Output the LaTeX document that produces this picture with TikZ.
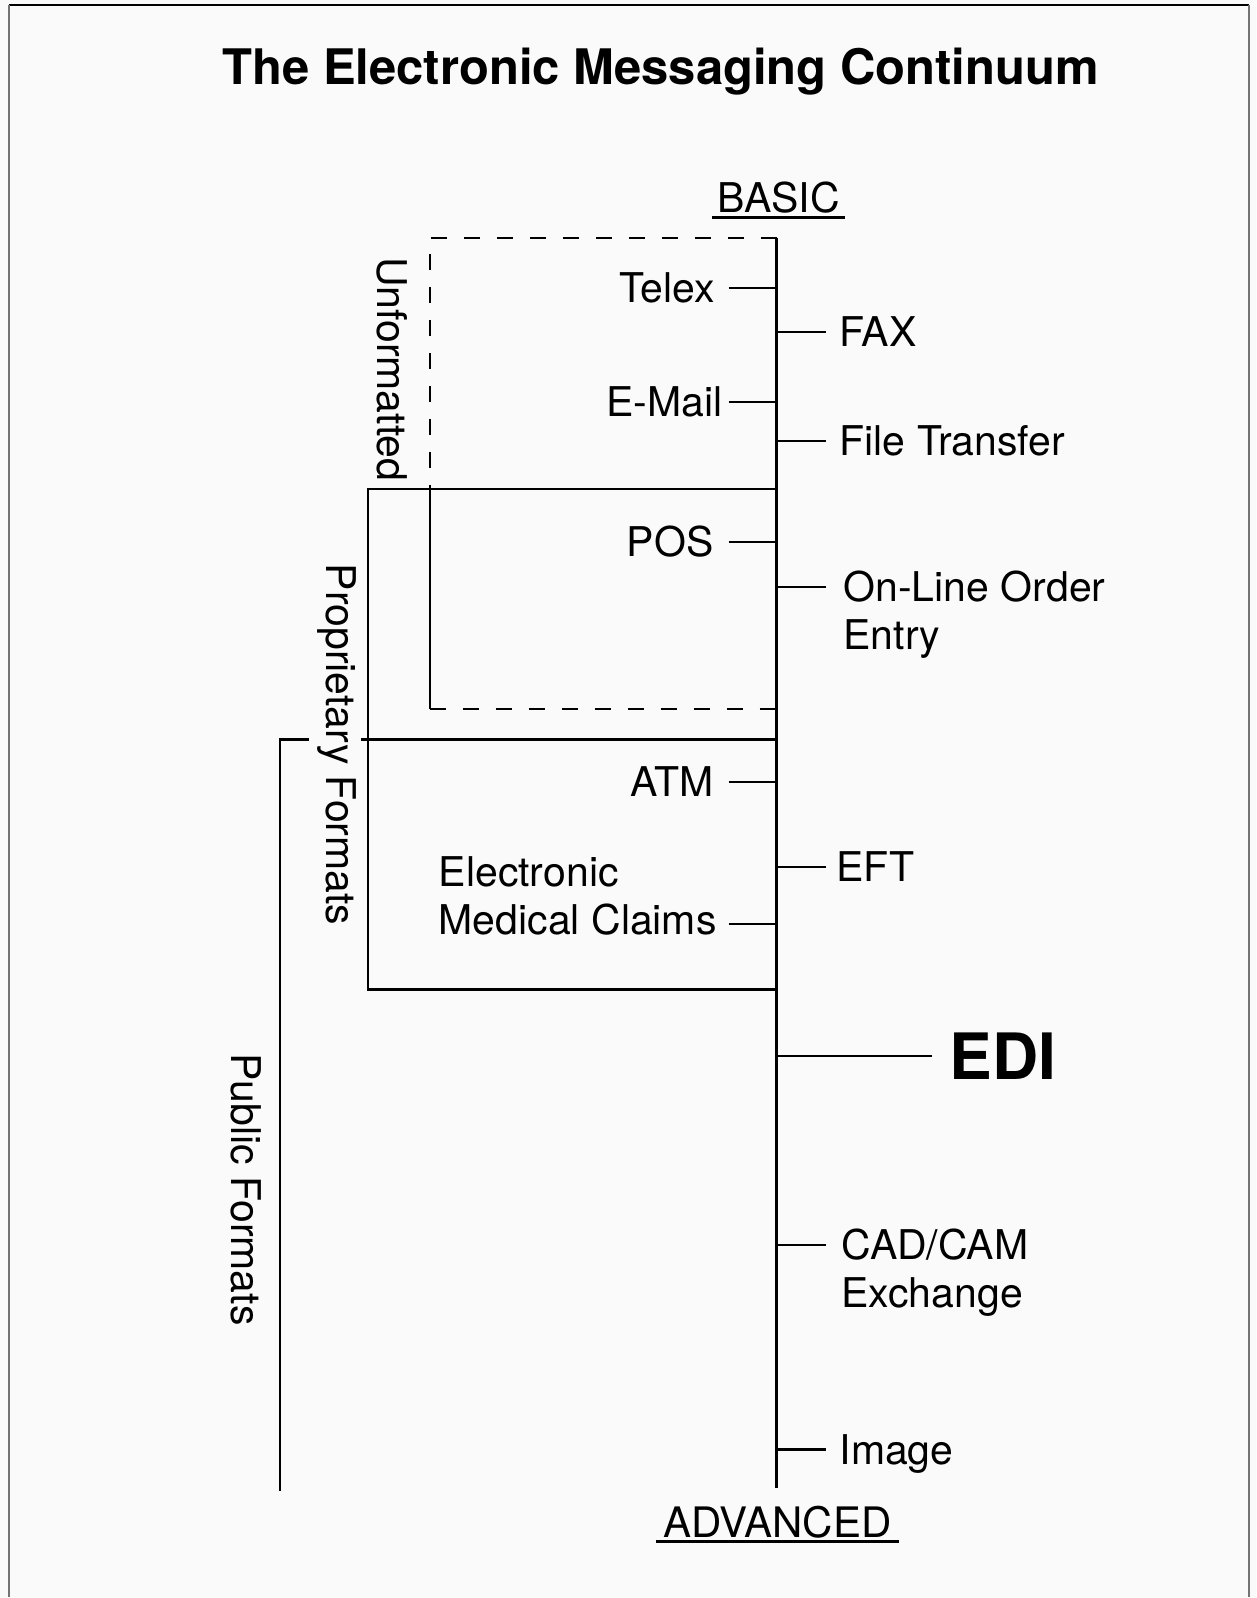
\documentclass[tikz,border=0pt]{standalone}
\usepackage{fontspec}
\setmainfont{TeX Gyre Heros}

\begin{document}
\begin{tikzpicture}[x=0.5pt, y=-0.5pt, line width=1.1pt,
  every node/.style={inner sep=0pt, font=\fontsize{20.5}{24}\selectfont},
  lbl/.style={text height=14.7pt, text depth=0pt},
  lblL/.style={lbl, anchor=base east},
  lblR/.style={lbl, anchor=base west},
  side/.style={rotate=-90, anchor=base},
  dashline/.style={dash pattern=on 8pt off 8.5pt},
  uline/.style={line width=1.5pt}]
\fill[black!2] (0,0) rectangle (1257,1598);
\draw[line width=0.9pt] (9,5) -- (1250,5);
\draw[line width=0.9pt, black!55] (9,5) -- (9,1598) (1250,5) -- (1250,1598);

\node[font=\fontsize{24.5}{28}\selectfont\bfseries, anchor=base] (title) at (661,85) {The Electronic Messaging Continuum};

% the continuum
\coordinate (spinetop) at (777,238);
\coordinate (spinebot) at (777,1489);
\coordinate (tickL) at (729,0);
\coordinate (tickR) at (826,0);
\draw (spinetop) -- (spinebot);
\node[anchor=base, inner xsep=2pt] (basic) at (779,213) {BASIC};
\draw[uline] ([yshift=-2.2pt]basic.base west) -- ([yshift=-2.2pt]basic.base east);
\node[anchor=base, inner xsep=3pt, font=\fontsize{21}{24}\selectfont] (adv) at (778,1538) {ADVANCED};
\draw[uline] ([yshift=-2.2pt]adv.base west) -- ([yshift=-2.2pt]adv.base east);

% boxes
\coordinate (unf-nw) at (430,238);
\coordinate (unf-sw) at (430,709);
\coordinate (prop-nw) at (368,489);
\coordinate (prop-se) at (777,990);
\draw[dashline] (spinetop) -- (unf-nw) -- (unf-nw |- prop-nw);
\draw (unf-nw |- prop-nw) -- (unf-sw);
\draw[dashline] (unf-sw) -- (unf-sw -| spinetop);
\draw (prop-nw) rectangle (prop-se);
\coordinate (pub-nw) at (280,740);
\coordinate (pub-sw) at (280,1492);
\draw (309,740) -- (pub-nw) -- (pub-sw);
\draw (361,740) -- (777,740);

\node[side] (unf) at (378,369.5) {Unformatted};
\node[side] (prop) at (326.5,745) {Proprietary Formats};
\node[side] (pub) at (232,1190) {Public Formats};

% left side
\node[lblL] (telex) at (716,303) {Telex};
\draw (telex.east -| tickL) -- (telex.east -| spinetop);
\node[lblL] (email) at (724,417) {E-Mail};
\draw (email.east -| tickL) -- (email.east -| spinetop);
\node[lblL] (pos) at (715,557) {POS};
\draw (pos.east -| tickL) -- (pos.east -| spinetop);
\node[lblL] (atm) at (715,797) {ATM};
\draw (atm.east -| tickL) -- (atm.east -| spinetop);
\node[lbl, anchor=base west] (elec) at (438,887) {Electronic};
\node[lbl, anchor=base west] (claims) at (438,935) {Medical Claims};
\coordinate (claimtick) at ([yshift=-2pt]claims.east);
\draw (claimtick -| tickL) -- (claimtick -| spinetop);

% right side
\node[lblR] (fax) at (839,347) {FAX};
\draw (fax.west -| spinetop) -- (fax.west -| tickR);
\node[lblR] (ftp) at (839,456) {File Transfer};
\draw (ftp.west -| spinetop) -- (ftp.west -| tickR);
\node[lblR] (online) at (843,602) {On-Line Order};
\node[lblR] (entry) at (843,650) {Entry};
\draw (online.west -| spinetop) -- (online.west -| tickR);
\node[lblR] (eft) at (836,882) {EFT};
\draw (eft.west -| spinetop) -- (eft.west -| tickR);
\node[font=\fontsize{32}{36}\selectfont\bfseries, anchor=base west] (edi) at (949,1080) {EDI};
\draw (edi.west -| spinetop) -- ([xshift=-8pt]edi.west);
\node[lblR] (cad) at (841,1260) {CAD/CAM};
\node[lblR] (exch) at (841,1308) {Exchange};
\draw (cad.west -| spinetop) -- (cad.west -| tickR);
\node[lblR] (img) at (839,1465) {Image};
\draw (img.west -| spinetop) -- (img.west -| tickR);
\end{tikzpicture}
\end{document}
